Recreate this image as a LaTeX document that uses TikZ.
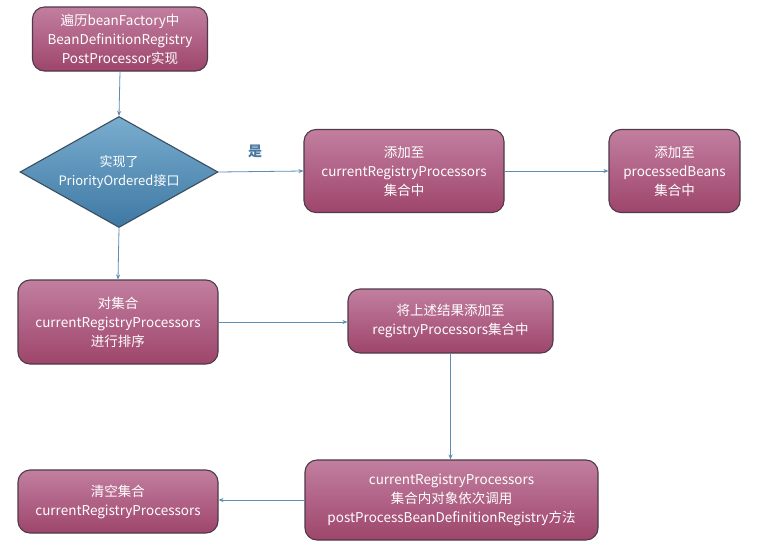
\documentclass[tikz,border=0pt]{standalone}
\usepackage{fontspec}
\setmainfont{Noto Sans CJK SC}
\usetikzlibrary{shapes.geometric,arrows.meta}
\definecolor{boxtop}{HTML}{C27FA0}
\definecolor{boxbot}{HTML}{9E456B}
\definecolor{boxline}{HTML}{4E3A48}
\definecolor{diatop}{HTML}{7AADCF}
\definecolor{diabot}{HTML}{3E78A3}
\definecolor{dialine}{HTML}{3A4E5E}
\definecolor{arrowc}{HTML}{5B8DB5}
\definecolor{labelc}{HTML}{4A78A0}
\begin{document}
\begin{tikzpicture}[x=1pt,y=-1pt,
  procbox/.style={rectangle, rounded corners=12pt, draw=boxline, line width=1.1pt,
    top color=boxtop, bottom color=boxbot, text=white, align=center,
    font=\fontsize{13.5}{19}\selectfont, inner sep=2pt},
  decision/.style={diamond, aspect=1.78, draw=dialine, line width=1.1pt, top color=diatop, bottom color=diabot,
    text=white, align=center, font=\fontsize{13}{19}\selectfont, inner sep=0pt},
  flow/.style={draw=arrowc, line width=0.8pt, -{Stealth[length=5pt,width=4pt]}}
]
\useasboundingbox (0,0) rectangle (763,552);
\fill[white] (0,0) rectangle (763,552);

\node[procbox, minimum width=175pt, minimum height=64pt] (start) at (120,39)
  {遍历beanFactory中\\BeanDefinitionRegistry\\PostProcessor实现};
\node[decision, minimum width=198pt, minimum height=111pt] (prio) at (119,172)
  {实现了\\PriorityOrdered接口};
\node[procbox, minimum width=200pt, minimum height=83pt] (addcur) at (404,171)
  {添加至\\currentRegistryProcessors\\集合中};
\node[procbox, minimum width=131pt, minimum height=83pt] (addproc) at (674.5,171)
  {添加至\\processedBeans\\集合中};
\node[procbox, minimum width=200pt, minimum height=84pt] (sort) at (118,322)
  {对集合\\currentRegistryProcessors\\进行排序};
\node[procbox, minimum width=205pt, minimum height=64pt] (addreg) at (450.5,321)
  {将上述结果添加至\\registryProcessors集合中};
\node[procbox, minimum width=293pt, minimum height=80pt] (invoke) at (451.5,500)
  {currentRegistryProcessors\\集合内对象依次调用\\postProcessBeanDefinitionRegistry方法};
\node[procbox, minimum width=200pt, minimum height=63pt] (clear) at (118,501.5)
  {清空集合\\currentRegistryProcessors};

\draw[flow] (start.south) -- (prio.north);
\draw[flow] (prio.east) -- node[above=10pt, text=labelc, font=\fontsize{14}{14}\selectfont\bfseries, pos=0.43] (yes) {是} (addcur.west);
\draw[flow] (addcur.east) -- (addproc.west);
\draw[flow] (prio.south) -- (sort.north);
\draw[flow] (sort.east) -- (sort.east -| addreg.west);
\draw[flow] (addreg.south) -- (addreg.south |- invoke.north);
\draw[flow] (invoke.west) -- (invoke.west -| clear.east);
\end{tikzpicture}
\end{document}
